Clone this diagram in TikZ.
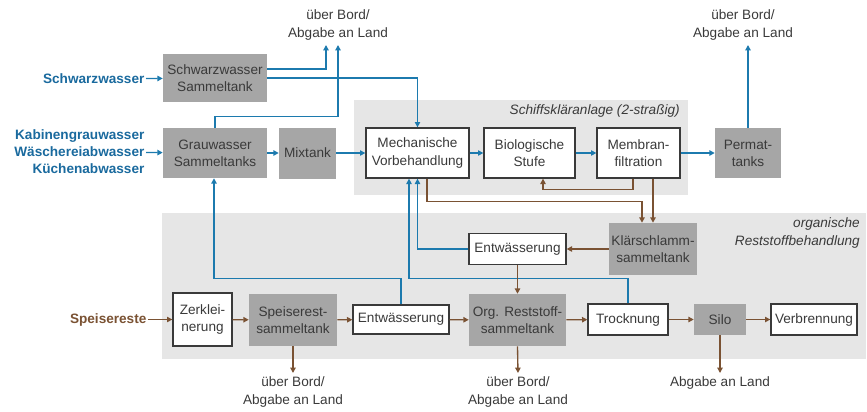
\documentclass[tikz,border=0pt]{standalone}
\usepackage{fontspec}
\setmainfont{Liberation Sans}
\usetikzlibrary{arrows.meta,calc}
\definecolor{flowblue}{HTML}{1C7AAE}
\definecolor{labelblue}{HTML}{1A6A9E}
\definecolor{flowbrown}{HTML}{7A5233}
\definecolor{tankgray}{HTML}{A6A6A6}
\definecolor{areagray}{HTML}{E6E6E6}
\definecolor{txtgray}{HTML}{3A3A3A}
\begin{document}
\begin{tikzpicture}[x=0.75pt,y=-0.75pt,
  font=\fontsize{10.2}{12.8}\selectfont,
  every node/.style={text=txtgray},
  sz/.style 2 args={minimum width=#1*0.75pt,minimum height=#2*0.75pt},
  tank/.style={fill=tankgray,inner sep=0pt,align=center},
  unit/.style={fill=white,draw=txtgray,line width=1pt,inner sep=0pt,align=center},
  inlabel/.style={font=\fontsize{10.2}{12.8}\selectfont\bfseries,align=right,anchor=east,inner sep=1pt},
  outlabel/.style={align=center,inner sep=0pt},
  arealabel/.style={font=\fontsize{10.2}{12.8}\selectfont\itshape,align=right,anchor=east,inner sep=0pt},
  barrow/.style={draw=flowblue,line width=1pt,-{Triangle[length=4pt,width=4pt]}},
  brarrow/.style={draw=flowbrown,line width=1pt,-{Triangle[length=4pt,width=4pt]}}]

\useasboundingbox (0,0) rectangle (867,411);

% grouped areas
\fill[areagray] (354,100) rectangle (688,195);
\fill[areagray] (162,213) rectangle (866,359);
\node[arealabel] (klaerarea) at (680,111) {Schiffskläranlage (2-straßig)};
\node[arealabel] (orgarea) at (860,233) {organische\\Reststoffbehandlung};

% inflows
\node[inlabel,text=labelblue] (swin) at (146,79) {Schwarzwasser};
\node[inlabel,text=labelblue] (grin) at (146,152) {Kabinengrauwasser\\Wäschereiabwasser\\Küchenabwasser};
\node[inlabel,text=flowbrown] (spin) at (148,319.5) {Speisereste};

% outflows
\node[outlabel] (out1) at (338,25) {über Bord/\\Abgabe an Land};
\node[outlabel] (out2) at (743,25) {über Bord/\\Abgabe an Land};
\node[outlabel] (out3) at (293,392) {über Bord/\\Abgabe an Land};
\node[outlabel] (out4) at (518,392) {über Bord/\\Abgabe an Land};
\node[outlabel] (out5) at (720,383) {Abgabe an Land};
\coordinate (bord1a) at (326,45);
\coordinate (bord1b) at (338,45);
\coordinate (bord2) at (748,45);
\coordinate (bord3) at (293,373);
\coordinate (bord4) at (518,373);
\coordinate (land) at (720,373);

% water line
\node[tank,sz={104}{48}] (schwarz) at (215,78) {Schwarzwasser\\Sammeltank};
\node[tank,sz={104}{50}] (grau) at (215,153) {Grauwasser\\Sammeltanks};
\node[tank,sz={57}{51}] (mix) at (307.5,153) {Mixtank};
\node[unit,sz={103}{50}] (mech) at (417.5,153) {Mechanische\\Vorbehandlung};
\node[unit,sz={91}{50}] (bio) at (529.5,153) {Biologische\\Stufe};
\node[unit,sz={83}{50}] (membran) at (638.5,153) {Membran-\\filtration};
\node[tank,sz={66}{50}] (perm) at (748,153) {Permat-\\tanks};

% organic residue line
\node[tank,sz={88}{52}] (klaer) at (653,249) {Klärschlamm-\\sammeltank};
\node[unit,sz={97}{31}] (entwU) at (517.5,249) {Entwässerung};
\node[unit,sz={59}{53}] (zerkl) at (202.5,319.5) {Zerklei-\\nerung};
\node[tank,sz={88}{52}] (spe) at (293,320) {Speiserest-\\sammeltank};
\node[unit,sz={96}{29}] (entwL) at (401,319.5) {Entwässerung};
\node[tank,sz={97}{52}] (org) at (517.5,320) {Org. Reststoff-\\sammeltank};
\node[unit,sz={80}{31}] (trock) at (628,319.5) {Trocknung};
\node[tank,sz={52}{31}] (silo) at (720,319.5) {Silo};
\node[unit,sz={86}{31}] (verbr) at (814,319.5) {Verbrennung};

% water flows
\draw[barrow] (swin) -- (schwarz);
\draw[barrow] ($(schwarz.east)+(0,-9)$) -| (bord1a);
\draw[barrow] (schwarz.east) -| (mech.north);
\draw[barrow] (grau.north) -- ++(0,-11) -| (bord1b);
\draw[barrow] (grin) -- (grau);
\draw[barrow] (grau) -- (mix);
\draw[barrow] (mix) -- (mech);
\draw[barrow] (mech) -- (bio);
\draw[barrow] (bio) -- (membran);
\draw[barrow] (membran) -- (perm);
\draw[barrow] (perm.north) -- (bord2);
\draw[barrow] (entwL.north) -- ++(0,-26) -| ($(grau.south)+(-1,0)$);
\draw[barrow] (trock.north) -- ++(0,-25) -| ($(mech.south)+(-8.5,0)$);
\draw[barrow] (entwU.west) -| (mech.south);

% sludge and residue flows
\draw[brarrow] (spin) -- (zerkl);
\draw[brarrow] (zerkl) -- (spe);
\draw[brarrow] (spe) -- (entwL);
\draw[brarrow] (entwL) -- (org);
\draw[brarrow] (org) -- (trock);
\draw[brarrow] (trock) -- (silo);
\draw[brarrow] (silo) -- (verbr);
\draw[brarrow] (spe.south) -- (bord3);
\draw[brarrow] (org.south) -- (bord4);
\draw[brarrow] (silo.south) -- (land);
\draw[brarrow] ($(mech.south)+(9.5,0)$) -- ++(0,23) -| ($(klaer.north)+(-11,0)$);
\draw[brarrow] ($(membran.south)+(-5.5,0)$) -- ++(0,11) -| ($(bio.south)+(13.5,0)$);
\draw[brarrow] ($(membran.south)+(14.5,0)$) -- (klaer.north);
\draw[brarrow] (klaer) -- (entwU);
\draw[brarrow] (entwU) -- (org);
\end{tikzpicture}
\end{document}
